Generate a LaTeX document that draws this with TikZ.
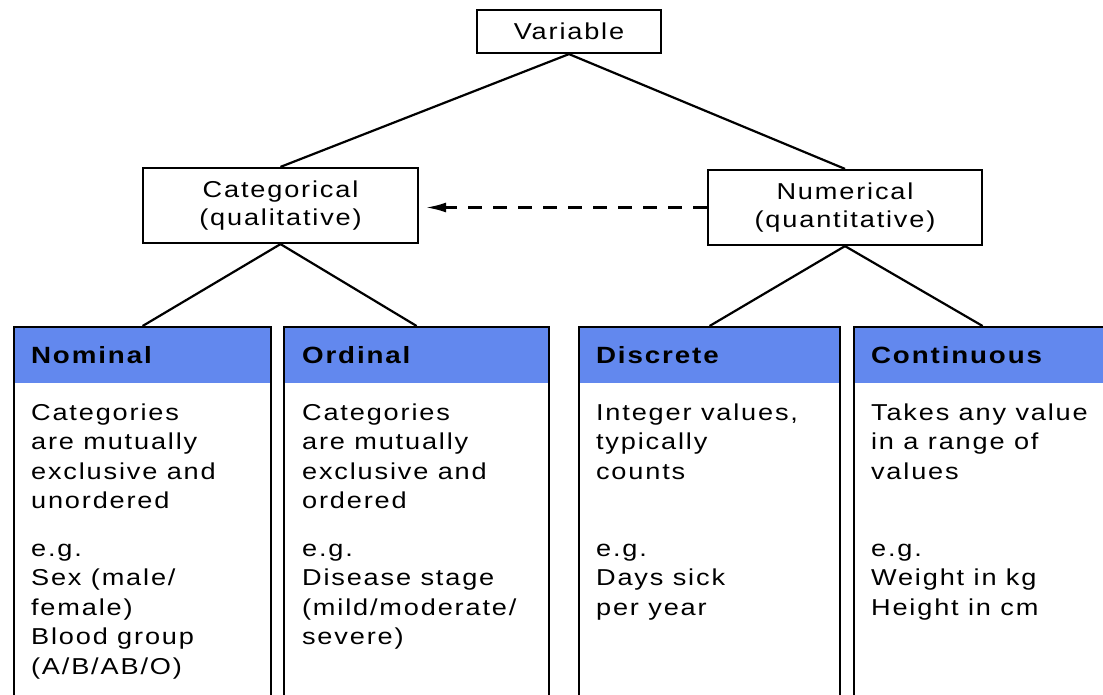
\documentclass[tikz,border=0pt]{standalone}
\usepackage{fontspec}
\setmainfont{Liberation Sans}[LetterSpace=8,FakeStretch=1.18]
\usetikzlibrary{arrows.meta}
\definecolor{hdr}{RGB}{98,136,238}
\newcommand{\lines}[1]{\begin{tabular}[t]{@{}l@{}}#1\end{tabular}}
\begin{document}
\begin{tikzpicture}[x=1pt,y=-1pt,line width=2.2pt,
  box/.style={draw,rectangle,inner sep=0pt,align=center,font=\fontsize{23}{28}\selectfont},
  col/.style={draw,rectangle,inner sep=0pt,anchor=north west,minimum height=420pt},
  hdrtext/.style={anchor=base west,inner sep=0pt,font=\fontsize{23.5}{28}\selectfont\bfseries},
  body/.style={anchor=base west,inner sep=0pt,font=\fontsize{23}{29.5}\selectfont},
  link/.style={line width=2.2pt},
  dlink/.style={line width=2.2pt,dash pattern=on 14pt off 11pt,-{Latex[length=20pt,width=10pt]},shorten >=7pt}
]
\useasboundingbox (0,0) rectangle (1103,695);

% top nodes
\node[box,minimum width=184pt,minimum height=43pt] (var) at (569,31.5) {Variable};
\node[box,minimum width=275pt,minimum height=75pt] (cat) at (280.5,205.5) {Categorical\\(qualitative)};
\node[box,minimum width=274pt,minimum height=75pt] (num) at (845,207.5) {Numerical\\(quantitative)};

% columns
\node[col,minimum width=257pt] (nom) at (13,326) {};
\node[col,minimum width=265pt] (ord) at (283,326) {};
\node[col,minimum width=261pt] (dis) at (578,326) {};
\node[col,minimum width=257pt] (con) at (853,326) {};

\foreach \c in {nom,ord,dis,con}{
  \fill[hdr] ([xshift=1.8pt,yshift=-1.8pt]\c.north west) rectangle ([xshift=-1.8pt,yshift=-57pt]\c.north east);
}

% headers
\node[hdrtext] (nomh) at (30,363) {Nominal};
\node[hdrtext] (ordh) at (301,363) {Ordinal};
\node[hdrtext] (dish) at (595,363) {Discrete};
\node[hdrtext] (conh) at (870,363) {Continuous};

% body texts
\node[body] (nomb) at (30,420) {\lines{Categories\\are mutually\\exclusive and\\unordered}};
\node[body] (ordb) at (301,420) {\lines{Categories\\are mutually\\exclusive and\\ordered}};
\node[body] (disb) at (595,420) {\lines{Integer values,\\typically\\counts}};
\node[body] (conb) at (870,420) {\lines{Takes any value\\in a range of\\values}};

\node[body] (nome) at (30,556) {\lines{e.g.\\Sex (male/\\female)\\Blood group\\(A/B/AB/O)}};
\node[body] (orde) at (301,556) {\lines{e.g.\\Disease stage\\(mild/moderate/\\severe)}};
\node[body] (dise) at (595,556) {\lines{e.g.\\Days sick\\per year}};
\node[body] (cone) at (870,556) {\lines{e.g.\\Weight in kg\\Height in cm}};

% connectors
\draw[link] (var.south) -- (cat.north);
\draw[link] (var.south) -- (num.north);
\draw[link] (cat.south) -- (nom.north);
\draw[link] (cat.south) -- (ord.north);
\draw[link] (num.south) -- (dis.north);
\draw[link] (num.south) -- (con.north);
\draw[dlink] (num.west) -- (num.west -| cat.east);
\end{tikzpicture}
\end{document}
